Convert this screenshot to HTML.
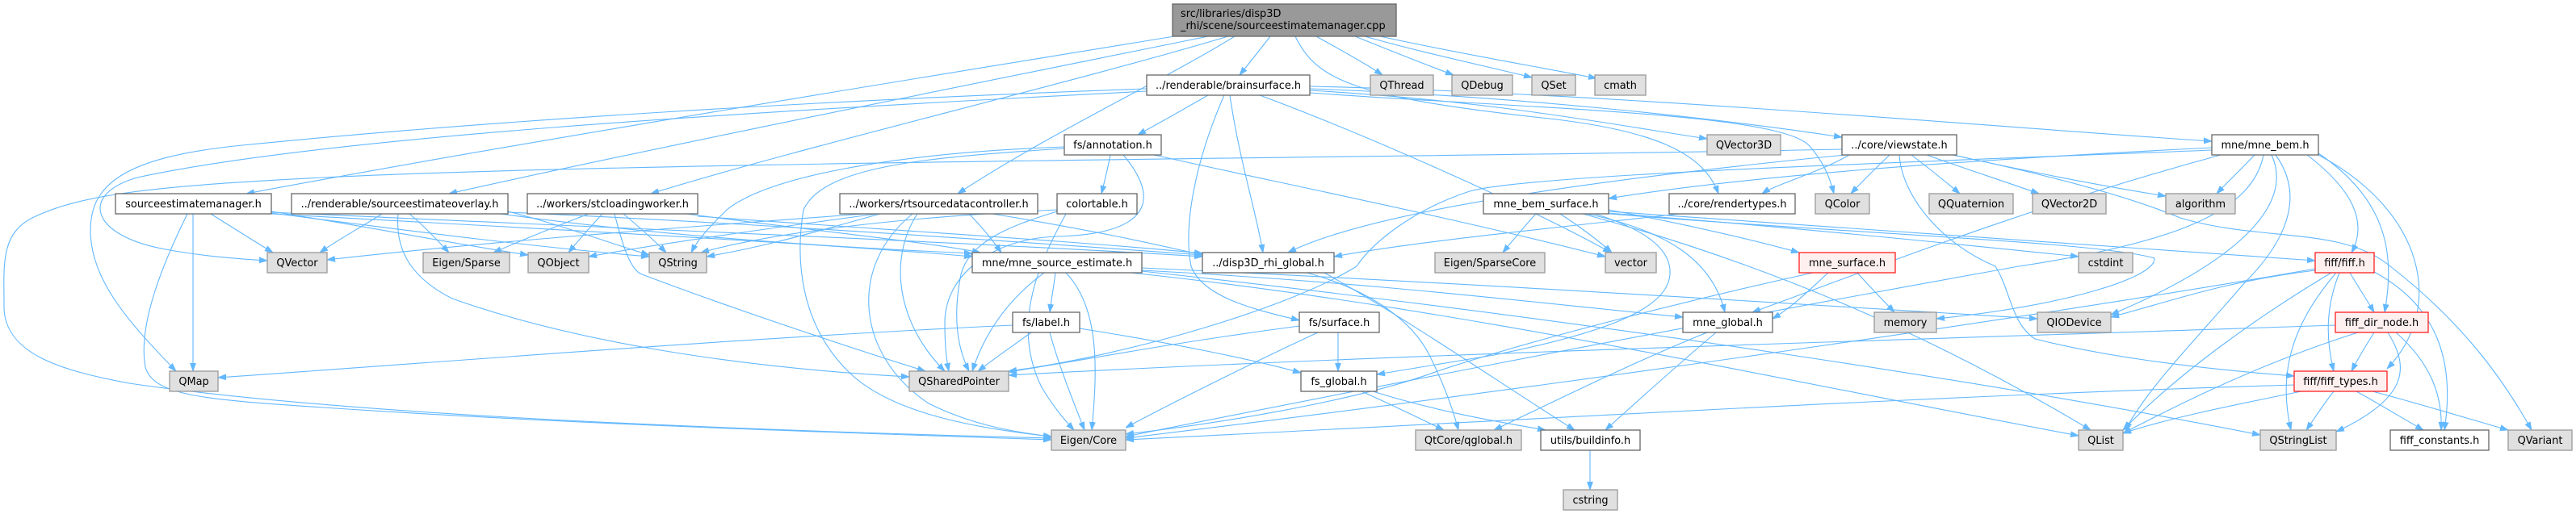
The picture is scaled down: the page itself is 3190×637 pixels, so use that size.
<!DOCTYPE html>
<html><head><meta charset="utf-8">
<style>
html,body{margin:0;padding:0;background:#fff;}
svg{display:block;}
.e{fill:none;stroke:#63b8ff;stroke-width:1.1;}
.w{fill:#ffffff;stroke:#666666;stroke-width:1.3;}
.g{fill:#e0e0e0;stroke:#999999;stroke-width:1.3;}
.r{fill:#fff0f0;stroke:#ff2020;stroke-width:1.3;}
.rt{fill:#999999;stroke:#666666;stroke-width:1.3;}
text{font-family:"DejaVu Sans","Liberation Sans",sans-serif;font-size:12.9px;fill:#000;text-anchor:middle;}
text.l{text-anchor:start;}
</style></head>
<body>
<svg width="3190" height="637" viewBox="0 0 3190 637" xmlns="http://www.w3.org/2000/svg">
<defs>
<marker id="a" markerWidth="10" markerHeight="8" refX="10" refY="4" orient="auto" markerUnits="userSpaceOnUse">
<path d="M0,0.5 L10,4 L0,7.5 z" fill="#63b8ff" stroke="#63b8ff" stroke-width="0.8"/>
</marker>
</defs>
<rect width="3190" height="637" fill="#fff"/>
<g marker-end="url(#a)">
<path class="e" d="M1454,45 C1150,95 650,175 305,240"/>
<path class="e" d="M1496,45 C1250,95 800,185 556,240"/>
<path class="e" d="M1521,45 C1320,105 1000,180 806,240"/>
<path class="e" d="M1529,45 C1440,100 1300,165 1186,240"/>
<path class="e" d="M1573,45 C1560,62 1548,77 1535,93"/>
<path class="e" d="M1630,45 C1660,62 1690,78 1712,93"/>
<path class="e" d="M1678,45 C1720,62 1760,78 1800,93"/>
<path class="e" d="M1690,45 C1760,65 1840,82 1897,96"/>
<path class="e" d="M1709,45 C1800,65 1900,82 1977,97"/>
<path class="e" d="M1604,45 C1630,100 1680,120 1900,145 C2050,160 2110,190 2128,240"/>
<path class="e" d="M1496,118 C1470,133 1440,150 1409,167"/>
<path class="e" d="M1523,118 C1535,200 1555,260 1564,313"/>
<path class="e" d="M1516,118 C1480,200 1465,280 1475,330 C1490,370 1560,385 1609,397"/>
<path class="e" d="M1622,112 C1850,125 2000,155 2114,172"/>
<path class="e" d="M1622,110 C1900,120 2150,150 2281,170"/>
<path class="e" d="M1622,107 C2000,115 2500,160 2739,175"/>
<path class="e" d="M1622,115 C1900,135 2200,140 2240,180 C2258,200 2266,220 2271,240"/>
<path class="e" d="M2290,192 C2250,215 2200,228 2182,240"/>
<path class="e" d="M1420,110 C1000,125 600,150 300,180 C150,195 110,230 112,290 C115,350 160,400 218,460"/>
<path class="e" d="M1420,113 C900,140 400,170 170,220 C100,240 110,290 200,308 C250,318 300,321 331,323"/>
<path class="e" d="M1560,118 C1700,170 1900,260 1995,313"/>
<path class="e" d="M2281,185 C1800,195 800,200 400,220 C200,230 100,240 40,270 C0,290 5,330 5,380 C5,440 80,460 160,475 C400,510 800,530 1302,543"/>
<path class="e" d="M261,265 C285,280 310,296 338,313"/>
<path class="e" d="M239,265 L239,460"/>
<path class="e" d="M232,265 C205,320 170,400 180,455 C190,490 250,495 400,505 C700,525 1000,535 1302,545"/>
<path class="e" d="M336,262 C450,280 550,300 654,316"/>
<path class="e" d="M336,264 C500,285 650,305 804,318"/>
<path class="e" d="M336,265 C600,280 1000,300 1204,318"/>
<path class="e" d="M336,263 C700,280 1200,300 1489,318"/>
<path class="e" d="M473,265 C450,280 420,296 396,313"/>
<path class="e" d="M507,265 C525,280 540,296 556,313"/>
<path class="e" d="M493,265 C490,300 500,340 560,370 C700,420 900,455 1126,467"/>
<path class="e" d="M629,262 C700,280 750,300 804,316"/>
<path class="e" d="M629,263 C900,275 1200,295 1489,316"/>
<path class="e" d="M620,265 C800,290 1000,305 1204,314"/>
<path class="e" d="M729,265 C690,280 650,296 611,313"/>
<path class="e" d="M746,265 C732,280 718,296 704,313"/>
<path class="e" d="M772,265 C790,280 808,296 825,313"/>
<path class="e" d="M761,265 C770,300 780,335 795,340 C900,380 1050,430 1146,460"/>
<path class="e" d="M850,265 C1000,285 1150,300 1214,313"/>
<path class="e" d="M864,268 C1100,285 1350,300 1489,314"/>
<path class="e" d="M1086,265 C900,290 800,305 729,318"/>
<path class="e" d="M1090,265 C1000,290 950,305 875,318"/>
<path class="e" d="M1070,265 C800,285 600,300 405,322"/>
<path class="e" d="M1136,265 C1100,320 1110,400 1170,460"/>
<path class="e" d="M1130,265 C1050,330 1060,440 1150,500 C1200,525 1250,535 1302,541"/>
<path class="e" d="M1229,265 C1350,285 1420,300 1489,316"/>
<path class="e" d="M1200,265 C1215,280 1228,296 1240,313"/>
<path class="e" d="M1375,192 C1372,208 1368,224 1364,240"/>
<path class="e" d="M1391,192 C1440,250 1420,290 1310,293 C1230,295 1170,340 1170,400 C1170,430 1172,445 1175,460"/>
<path class="e" d="M1318,182 C1100,190 950,220 900,260 C880,280 865,295 856,313"/>
<path class="e" d="M1318,184 C1150,195 1020,205 995,260 C985,320 990,400 1050,460 C1100,510 1200,530 1302,541"/>
<path class="e" d="M1429,192 C1600,230 1800,270 1988,318"/>
<path class="e" d="M1309,262 C1250,280 1200,300 1190,340 C1180,390 1185,430 1200,460"/>
<path class="e" d="M1309,260 C1100,270 950,290 868,313"/>
<path class="e" d="M1320,265 C1290,320 1250,400 1290,480 C1305,505 1318,520 1330,533"/>
<path class="e" d="M1307,338 C1305,355 1302,370 1300,387"/>
<path class="e" d="M1293,338 C1250,370 1220,410 1204,460"/>
<path class="e" d="M1320,338 C1360,380 1360,450 1352,533"/>
<path class="e" d="M1414,335 C1700,350 1900,375 2084,393"/>
<path class="e" d="M1400,338 C1800,380 2200,470 2574,540"/>
<path class="e" d="M1414,332 C1800,350 2200,375 2523,395"/>
<path class="e" d="M1414,336 C2000,400 2500,480 2799,539"/>
<path class="e" d="M1254,403 C900,420 600,445 270,468"/>
<path class="e" d="M1277,412 C1255,428 1233,443 1211,460"/>
<path class="e" d="M1300,412 C1310,450 1330,500 1343,533"/>
<path class="e" d="M1337,407 C1450,425 1550,445 1611,462"/>
<path class="e" d="M1657,412 L1657,460"/>
<path class="e" d="M1632,412 C1550,450 1450,500 1394,530"/>
<path class="e" d="M1609,404 C1450,425 1350,445 1249,461"/>
<path class="e" d="M1618,338 C1700,360 1750,400 1770,440 C1790,480 1800,510 1806,533"/>
<path class="e" d="M1640,338 C1750,400 1850,470 1950,533"/>
<path class="e" d="M1686,485 C1720,500 1755,517 1788,533"/>
<path class="e" d="M1700,485 C1780,510 1850,522 1914,533"/>
<path class="e" d="M2114,412 C2020,450 1930,495 1850,533"/>
<path class="e" d="M2125,412 C2080,450 2030,495 1988,533"/>
<path class="e" d="M1969,558 L1969,607"/>
<path class="e" d="M1902,265 C1888,280 1875,296 1861,313"/>
<path class="e" d="M1932,265 C1955,280 1977,296 1996,313"/>
<path class="e" d="M1992,260 C2100,280 2180,300 2228,313"/>
<path class="e" d="M1992,262 C2300,285 2600,305 2867,323"/>
<path class="e" d="M1965,265 C2060,285 2120,320 2136,387"/>
<path class="e" d="M1975,265 C2040,285 2070,310 2068,340 C2065,380 2000,410 1850,440 C1780,452 1730,460 1705,464"/>
<path class="e" d="M1960,265 C2200,330 2400,420 2589,533"/>
<path class="e" d="M2080,265 C1900,285 1750,300 1652,318"/>
<path class="e" d="M2340,192 C2323,208 2307,224 2292,240"/>
<path class="e" d="M2367,192 C2388,208 2408,224 2427,240"/>
<path class="e" d="M2386,192 C2430,208 2480,224 2525,240"/>
<path class="e" d="M2418,192 C2500,210 2600,230 2682,243"/>
<path class="e" d="M2423,193 C2550,220 2640,245 2700,270 C2800,300 2900,280 2960,330 C3050,400 3100,470 3135,533"/>
<path class="e" d="M2285,192 C2000,220 1700,260 1595,313"/>
<path class="e" d="M2352,192 C2355,240 2400,300 2471,330 C2490,360 2490,400 2520,420 C2600,440 2700,455 2841,466"/>
<path class="e" d="M1992,264 C2200,280 2400,300 2574,318"/>
<path class="e" d="M2792,192 C2777,208 2760,224 2745,240"/>
<path class="e" d="M2739,183 C2400,200 2150,220 1992,246"/>
<path class="e" d="M2739,186 C2400,200 1900,215 1820,237 C1750,260 1700,300 1680,330 C1600,380 1400,440 1249,460"/>
<path class="e" d="M2750,192 C2500,260 2300,340 2170,387"/>
<path class="e" d="M2857,192 C2920,240 2930,280 2912,313"/>
<path class="e" d="M2871,190 C2960,250 2965,320 2953,387"/>
<path class="e" d="M2871,192 C3000,260 3030,380 2956,457"/>
<path class="e" d="M2818,192 C2860,250 2820,310 2780,350 C2720,420 2660,480 2632,533"/>
<path class="e" d="M2813,192 C2840,250 2780,320 2614,390"/>
<path class="e" d="M2803,192 C2790,260 2700,300 2500,330 C2000,420 1600,500 1394,541"/>
<path class="e" d="M1992,265 C2300,290 2600,300 2668,320 C2670,345 2550,380 2398,395"/>
<path class="e" d="M2910,338 C2920,355 2930,370 2940,387"/>
<path class="e" d="M2897,338 C2880,380 2880,420 2890,460"/>
<path class="e" d="M2893,338 C2840,400 2820,460 2837,533"/>
<path class="e" d="M2940,337 C3020,380 3040,450 3027,533"/>
<path class="e" d="M2887,338 C2800,390 2700,460 2629,533"/>
<path class="e" d="M2867,335 C2750,350 2700,370 2614,393"/>
<path class="e" d="M2867,333 C2600,380 2000,470 1394,543"/>
<path class="e" d="M2940,412 C2930,428 2920,444 2912,460"/>
<path class="e" d="M2957,412 C2980,450 2990,490 2893,535"/>
<path class="e" d="M2967,412 C3010,450 3025,490 3023,533"/>
<path class="e" d="M2920,412 C2800,450 2700,500 2629,537"/>
<path class="e" d="M2892,403 C2400,420 1700,440 1249,465"/>
<path class="e" d="M2890,485 C2878,500 2867,517 2856,533"/>
<path class="e" d="M2918,485 C2945,500 2973,517 3001,533"/>
<path class="e" d="M2938,485 C2995,500 3050,517 3106,533"/>
<path class="e" d="M2850,485 C2750,505 2680,520 2629,537"/>
<path class="e" d="M2841,477 C2400,490 1900,520 1394,545"/>
<path class="e" d="M2300,338 C2315,355 2330,370 2346,387"/>
<path class="e" d="M2264,338 C2240,360 2220,380 2195,395"/>
<path class="e" d="M2245,338 C2100,370 1900,420 1780,460 C1700,490 1550,520 1394,538"/>
</g>

<!-- nodes -->
<rect class="rt" x="1452" y="5" width="277" height="40"/>
<text class="l" x="1462" y="21">src/libraries/disp3D</text>
<text class="l" x="1462" y="36">_rhi/scene/sourceestimatemanager.cpp</text>

<rect class="w" x="1420" y="93" width="202" height="25"/><text x="1521" y="110">../renderable/brainsurface.h</text>
<rect class="g" x="1697" y="93" width="78" height="25"/><text x="1736" y="110">QThread</text>
<rect class="g" x="1798" y="93" width="75" height="25"/><text x="1835.5" y="110">QDebug</text>
<rect class="g" x="1897" y="93" width="54" height="25"/><text x="1924" y="110">QSet</text>
<rect class="g" x="1975" y="93" width="63" height="25"/><text x="2006.5" y="110">cmath</text>

<rect class="w" x="1318" y="167" width="120" height="25"/><text x="1378" y="184">fs/annotation.h</text>
<rect class="g" x="2114" y="167" width="91" height="25"/><text x="2159.5" y="184">QVector3D</text>
<rect class="w" x="2281" y="167" width="142" height="25"/><text x="2352" y="184">../core/viewstate.h</text>
<rect class="w" x="2739" y="167" width="132" height="25"/><text x="2805" y="184">mne/mne_bem.h</text>

<rect class="w" x="143" y="240" width="193" height="25"/><text x="239.5" y="257">sourceestimatemanager.h</text>
<rect class="w" x="361" y="240" width="268" height="25"/><text x="495" y="257">../renderable/sourceestimateoverlay.h</text>
<rect class="w" x="653" y="240" width="211" height="25"/><text x="758.5" y="257">../workers/stcloadingworker.h</text>
<rect class="w" x="1040" y="240" width="245" height="25"/><text x="1162.5" y="257">../workers/rtsourcedatacontroller.h</text>
<rect class="w" x="1309" y="240" width="99" height="25"/><text x="1358.5" y="257">colortable.h</text>
<rect class="w" x="1837" y="240" width="155" height="25"/><text x="1914.5" y="257">mne_bem_surface.h</text>
<rect class="w" x="2067" y="240" width="156" height="25"/><text x="2145" y="257">../core/rendertypes.h</text>
<rect class="g" x="2248" y="240" width="67" height="25"/><text x="2281.5" y="257">QColor</text>
<rect class="g" x="2389" y="240" width="104" height="25"/><text x="2441" y="257">QQuaternion</text>
<rect class="g" x="2517" y="240" width="91" height="25"/><text x="2562.5" y="257">QVector2D</text>
<rect class="g" x="2682" y="240" width="86" height="25"/><text x="2725" y="257">algorithm</text>

<rect class="g" x="331" y="313" width="74" height="25"/><text x="368" y="330">QVector</text>
<rect class="g" x="524" y="313" width="107" height="25"/><text x="577.5" y="330">Eigen/Sparse</text>
<rect class="g" x="654" y="313" width="75" height="25"/><text x="691.5" y="330">QObject</text>
<rect class="g" x="804" y="313" width="71" height="25"/><text x="839.5" y="330">QString</text>
<rect class="w" x="1204" y="313" width="210" height="25"/><text x="1309" y="330">mne/mne_source_estimate.h</text>
<rect class="w" x="1489" y="313" width="163" height="25"/><text x="1570.5" y="330">../disp3D_rhi_global.h</text>
<rect class="g" x="1777" y="313" width="136" height="25"/><text x="1845" y="330">Eigen/SparseCore</text>
<rect class="g" x="1988" y="313" width="63" height="25"/><text x="2019.5" y="330">vector</text>
<rect class="r" x="2228" y="313" width="119" height="25"/><text x="2287.5" y="330">mne_surface.h</text>
<rect class="g" x="2574" y="313" width="67" height="25"/><text x="2607.5" y="330">cstdint</text>
<rect class="r" x="2867" y="313" width="73" height="25"/><text x="2903.5" y="330">fiff/fiff.h</text>

<rect class="w" x="1254" y="387" width="83" height="25"/><text x="1295.5" y="404">fs/label.h</text>
<rect class="w" x="1609" y="387" width="99" height="25"/><text x="1658.5" y="404">fs/surface.h</text>
<rect class="w" x="2084" y="387" width="111" height="25"/><text x="2139.5" y="404">mne_global.h</text>
<rect class="g" x="2321" y="387" width="77" height="25"/><text x="2359.5" y="404">memory</text>
<rect class="g" x="2523" y="387" width="91" height="25"/><text x="2568.5" y="404">QIODevice</text>
<rect class="r" x="2892" y="387" width="115" height="25"/><text x="2949.5" y="404">fiff_dir_node.h</text>

<rect class="g" x="210" y="460" width="60" height="25"/><text x="240" y="477">QMap</text>
<rect class="g" x="1126" y="460" width="123" height="25"/><text x="1187.5" y="477">QSharedPointer</text>
<rect class="w" x="1611" y="460" width="94" height="25"/><text x="1658" y="477">fs_global.h</text>
<rect class="r" x="2841" y="460" width="115" height="25"/><text x="2898.5" y="477">fiff/fiff_types.h</text>

<rect class="g" x="1302" y="533" width="92" height="25"/><text x="1348" y="550">Eigen/Core</text>
<rect class="g" x="1753" y="533" width="131" height="25"/><text x="1818.5" y="550">QtCore/qglobal.h</text>
<rect class="w" x="1908" y="533" width="123" height="25"/><text x="1969.5" y="550">utils/buildinfo.h</text>
<rect class="g" x="2574" y="533" width="55" height="25"/><text x="2601.5" y="550">QList</text>
<rect class="g" x="2799" y="533" width="94" height="25"/><text x="2846" y="550">QStringList</text>
<rect class="w" x="2960" y="533" width="122" height="25"/><text x="3021" y="550">fiff_constants.h</text>
<rect class="g" x="3106" y="533" width="79" height="25"/><text x="3145.5" y="550">QVariant</text>

<rect class="g" x="1936" y="607" width="67" height="25"/><text x="1969.5" y="624">cstring</text>
</svg>
</body></html>
